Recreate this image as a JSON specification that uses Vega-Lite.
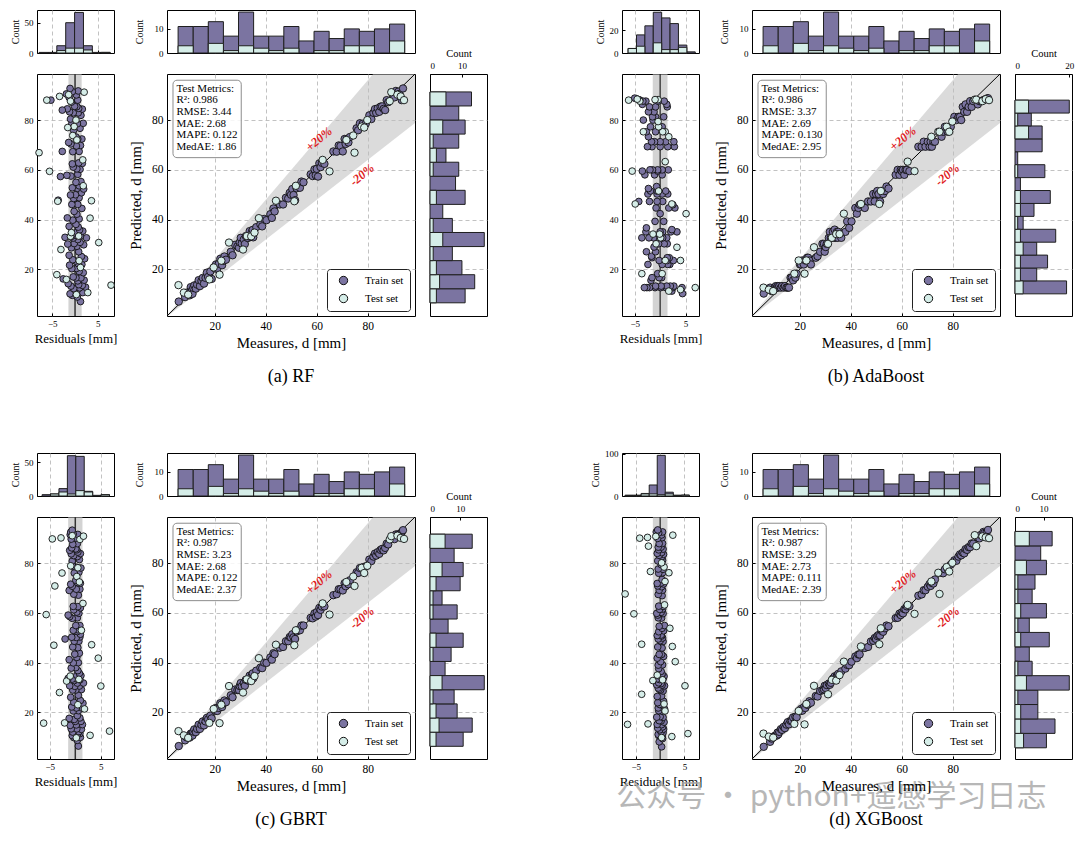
{
  "$schema": "https://vega.github.io/schema/vega-lite/v6.json",
  "background": "white",
  "padding": {"left": 9, "top": 9, "right": 0, "bottom": 0},
  "config": {
    "font": "Liberation Serif",
    "view": {"stroke": "#000", "strokeWidth": 1},
    "axis": {"domain": false, "grid": true, "gridColor": "#b3b3b3", "gridDash": [4, 3], "gridWidth": 0.8, "ticks": true, "tickSize": -3, "tickColor": "#000", "labelFont": "Liberation Serif", "titleFont": "Liberation Serif", "labelColor": "#000", "titleColor": "#000", "titleFontWeight": "normal"},
    "title": {"font": "Liberation Serif", "fontSize": 18, "fontWeight": "normal", "color": "#000"},
    "legend": {"labelFont": "Liberation Serif"}
  },
  "datasets": {
    "pts": [
      {"s":"Test set","m":5.8,"pa":13.7,"ra":7.9,"pb":12.7,"rb":6.9,"pc":12.5,"rc":6.7,"pd":11.5,"rd":5.7},
      {"s":"Train set","m":5.9,"pa":7.1,"ra":1.2,"pb":10.3,"rb":4.4,"pc":6.5,"rc":0.6,"pd":6.2,"rd":0.3},
      {"s":"Test set","m":7.9,"pa":10.7,"ra":2.8,"pb":11.9,"rb":4.0,"pc":10.8,"rc":2.9,"pd":10.3,"rd":2.4},
      {"s":"Train set","m":8.4,"pa":8.9,"ra":0.5,"pb":12.7,"rb":4.3,"pc":8.8,"rc":0.4,"pd":8.2,"rd":-0.2},
      {"s":"Train set","m":9.0,"pa":10.7,"ra":1.7,"pb":11.3,"rb":2.3,"pc":10.0,"rc":1.0,"pd":9.5,"rd":0.5},
      {"s":"Test set","m":9.6,"pa":9.9,"ra":0.3,"pb":11.3,"rb":1.7,"pc":9.8,"rc":0.2,"pd":9.9,"rd":0.3},
      {"s":"Train set","m":10.2,"pa":9.6,"ra":-0.6,"pb":12.7,"rb":2.5,"pc":9.9,"rc":-0.3,"pd":10.6,"rd":0.4},
      {"s":"Train set","m":10.6,"pa":12.9,"ra":2.3,"pb":13.3,"rb":2.7,"pc":11.5,"rc":0.9,"pd":10.7,"rd":0.1},
      {"s":"Train set","m":11.0,"pa":11.4,"ra":0.4,"pb":12.7,"rb":1.7,"pc":11.5,"rc":0.5,"pd":10.7,"rd":-0.3},
      {"s":"Train set","m":11.3,"pa":10.2,"ra":-1.1,"pb":13.3,"rb":2.0,"pc":10.7,"rc":-0.6,"pd":11.9,"rd":0.6},
      {"s":"Train set","m":11.6,"pa":12.6,"ra":1.0,"pb":12.7,"rb":1.1,"pc":12.3,"rc":0.7,"pd":11.2,"rd":-0.4},
      {"s":"Train set","m":12.0,"pa":13.6,"ra":1.6,"pb":13.3,"rb":1.3,"pc":13.2,"rc":1.2,"pd":12.2,"rd":0.2},
      {"s":"Train set","m":12.6,"pa":12.3,"ra":-0.3,"pb":12.7,"rb":0.1,"pc":12.1,"rc":-0.5,"pd":13.3,"rd":0.7},
      {"s":"Train set","m":13.1,"pa":13.9,"ra":0.8,"pb":13.3,"rb":0.2,"pc":13.4,"rc":0.3,"pd":13.0,"rd":-0.1},
      {"s":"Train set","m":13.7,"pa":15.7,"ra":2.0,"pb":12.7,"rb":-1.0,"pc":15.1,"rc":1.4,"pd":14.2,"rd":0.5},
      {"s":"Train set","m":14.2,"pa":13.3,"ra":-0.9,"pb":13.3,"rb":-0.9,"pc":13.4,"rc":-0.8,"pd":13.7,"rd":-0.5},
      {"s":"Train set","m":14.8,"pa":15.4,"ra":0.6,"pb":12.7,"rb":-2.1,"pc":15.0,"rc":0.2,"pd":15.1,"rd":0.3},
      {"s":"Train set","m":15.3,"pa":16.6,"ra":1.3,"pb":12.7,"rb":-2.6,"pc":16.4,"rc":1.1,"pd":16.1,"rd":0.8},
      {"s":"Train set","m":15.8,"pa":14.3,"ra":-1.5,"pb":12.7,"rb":-3.1,"pc":14.8,"rc":-1.0,"pd":15.2,"rd":-0.6},
      {"s":"Train set","m":16.4,"pa":16.6,"ra":0.2,"pb":16.7,"rb":0.3,"pc":16.4,"rc":0.0,"pd":16.6,"rd":0.2},
      {"s":"Train set","m":16.9,"pa":18.7,"ra":1.8,"pb":16.7,"rb":-0.2,"pc":17.8,"rc":0.9,"pd":16.7,"rd":-0.2},
      {"s":"Train set","m":17.4,"pa":17.0,"ra":-0.4,"pb":15.6,"rb":-1.8,"pc":17.2,"rc":-0.2,"pd":18.0,"rd":0.6},
      {"s":"Test set","m":17.9,"pa":16.0,"ra":-1.9,"pb":18.3,"rb":0.4,"pc":15.8,"rc":-2.1,"pd":15.4,"rd":-2.5},
      {"s":"Train set","m":18.3,"pa":19.2,"ra":0.9,"pb":16.7,"rb":-1.6,"pc":18.7,"rc":0.4,"pd":18.3,"rd":0.0},
      {"s":"Train set","m":18.8,"pa":16.2,"ra":-2.6,"pb":18.3,"rb":-0.5,"pc":17.6,"rc":-1.2,"pd":18.1,"rd":-0.7},
      {"s":"Test set","m":19.6,"pa":20.8,"ra":1.2,"pb":23.6,"rb":4.0,"pc":21.4,"rc":1.8,"pd":20.6,"rd":1.0},
      {"s":"Train set","m":20.1,"pa":20.4,"ra":0.3,"pb":22.0,"rb":1.9,"pc":20.7,"rc":0.6,"pd":20.5,"rd":0.4},
      {"s":"Train set","m":20.5,"pa":22.0,"ra":1.5,"pb":22.0,"rb":1.5,"pc":21.8,"rc":1.3,"pd":21.4,"rd":0.9},
      {"s":"Train set","m":21.0,"pa":20.3,"ra":-0.7,"pb":23.6,"rb":2.6,"pc":20.6,"rc":-0.4,"pd":20.7,"rd":-0.3},
      {"s":"Test set","m":21.9,"pa":17.9,"ra":-4.0,"pb":18.3,"rb":-3.6,"pc":15.7,"rc":-6.2,"pd":15.2,"rd":-6.7},
      {"s":"Train set","m":21.6,"pa":22.3,"ra":0.7,"pb":22.0,"rb":0.4,"pc":21.8,"rc":0.2,"pd":22.1,"rd":0.5},
      {"s":"Train set","m":22.2,"pa":24.3,"ra":2.1,"pb":23.6,"rb":1.4,"pc":23.7,"rc":1.5,"pd":21.8,"rd":-0.4},
      {"s":"Test set","m":22.6,"pa":23.5,"ra":0.9,"pb":23.6,"rb":1.0,"pc":23.1,"rc":0.5,"pd":23.4,"rd":0.8},
      {"s":"Train set","m":22.9,"pa":21.7,"ra":-1.2,"pb":24.7,"rb":1.8,"pc":22.2,"rc":-0.7,"pd":23.1,"rd":0.2},
      {"s":"Train set","m":23.3,"pa":23.4,"ra":0.1,"pb":24.7,"rb":1.4,"pc":23.6,"rc":0.3,"pd":23.2,"rd":-0.1},
      {"s":"Train set","m":23.8,"pa":25.2,"ra":1.4,"pb":23.6,"rb":-0.2,"pc":24.8,"rc":1.0,"pd":24.5,"rd":0.7},
      {"s":"Train set","m":24.4,"pa":23.9,"ra":-0.5,"pb":22.0,"rb":-2.4,"pc":24.1,"rc":-0.3,"pd":23.9,"rd":-0.5},
      {"s":"Test set","m":25.6,"pa":30.8,"ra":5.2,"pb":28.9,"rb":3.3,"pc":30.6,"rc":5.0,"pd":30.7,"rd":5.1},
      {"s":"Train set","m":26.3,"pa":27.1,"ra":0.8,"pb":24.7,"rb":-1.6,"pc":26.9,"rc":0.6,"pd":26.6,"rd":0.3},
      {"s":"Train set","m":27.0,"pa":25.7,"ra":-1.3,"pb":25.3,"rb":-1.7,"pc":26.1,"rc":-0.9,"pd":26.4,"rd":-0.6},
      {"s":"Train set","m":28.0,"pa":29.9,"ra":1.9,"pb":27.1,"rb":-0.9,"pc":29.2,"rc":1.2,"pd":28.6,"rd":0.6},
      {"s":"Train set","m":28.9,"pa":29.3,"ra":0.4,"pb":30.3,"rb":1.4,"pc":29.0,"rc":0.1,"pd":29.0,"rd":0.1},
      {"s":"Train set","m":29.5,"pa":28.7,"ra":-0.8,"pb":30.3,"rb":0.8,"pc":29.0,"rc":-0.5,"pd":29.3,"rd":-0.2},
      {"s":"Train set","m":29.8,"pa":30.9,"ra":1.1,"pb":27.1,"rb":-2.7,"pc":30.6,"rc":0.8,"pd":30.7,"rd":0.9},
      {"s":"Train set","m":30.2,"pa":32.7,"ra":2.5,"pb":29.0,"rb":-1.2,"pc":31.8,"rc":1.6,"pd":29.8,"rd":-0.4},
      {"s":"Test set","m":31.1,"pa":28.0,"ra":-3.1,"pb":30.3,"rb":-0.8,"pc":28.0,"rc":-3.1,"pd":27.3,"rd":-3.8},
      {"s":"Train set","m":30.6,"pa":30.4,"ra":-0.2,"pb":30.3,"rb":-0.3,"pc":30.5,"rc":-0.1,"pd":31.0,"rd":0.4},
      {"s":"Train set","m":31.4,"pa":32.0,"ra":0.6,"pb":32.7,"rb":1.3,"pc":31.8,"rc":0.4,"pd":31.6,"rd":0.2},
      {"s":"Train set","m":31.8,"pa":30.2,"ra":-1.6,"pb":35.1,"rb":3.3,"pc":30.7,"rc":-1.1,"pd":31.1,"rd":-0.7},
      {"s":"Test set","m":32.6,"pa":33.4,"ra":0.8,"pb":32.7,"rb":0.1,"pc":33.3,"rc":0.7,"pd":33.1,"rd":0.5},
      {"s":"Train set","m":32.2,"pa":33.4,"ra":1.2,"pb":32.7,"rb":0.5,"pc":33.1,"rc":0.9,"pd":31.9,"rd":-0.3},
      {"s":"Train set","m":33.0,"pa":32.6,"ra":-0.4,"pb":35.1,"rb":2.1,"pc":32.8,"rc":-0.2,"pd":33.6,"rd":0.6},
      {"s":"Train set","m":33.3,"pa":33.6,"ra":0.3,"pb":32.7,"rb":-0.6,"pc":33.5,"rc":0.2,"pd":33.2,"rd":-0.1},
      {"s":"Train set","m":33.7,"pa":35.4,"ra":1.7,"pb":36.0,"rb":2.3,"pc":34.8,"rc":1.1,"pd":34.5,"rd":0.8},
      {"s":"Test set","m":34.3,"pa":33.3,"ra":-1.0,"pb":34.2,"rb":-0.1,"pc":32.6,"rc":-1.7,"pd":32.8,"rd":-1.5},
      {"s":"Train set","m":34.0,"pa":33.1,"ra":-0.9,"pb":32.7,"rb":-1.3,"pc":33.4,"rc":-0.6,"pd":33.5,"rd":-0.5},
      {"s":"Train set","m":34.6,"pa":35.1,"ra":0.5,"pb":35.1,"rb":0.5,"pc":34.9,"rc":0.3,"pd":34.9,"rd":0.3},
      {"s":"Train set","m":34.9,"pa":35.9,"ra":1.0,"pb":32.7,"rb":-2.2,"pc":35.7,"rc":0.8,"pd":34.7,"rd":-0.2},
      {"s":"Train set","m":35.1,"pa":32.9,"ra":-2.2,"pb":35.1,"rb":0.0,"pc":33.7,"rc":-1.4,"pd":35.5,"rd":0.4},
      {"s":"Test set","m":35.6,"pa":34.8,"ra":-0.8,"pb":34.2,"rb":-1.4,"pc":34.6,"rc":-1.0,"pd":35.0,"rd":-0.6},
      {"s":"Train set","m":36.3,"pa":37.0,"ra":0.7,"pb":32.7,"rb":-3.6,"pc":36.8,"rc":0.5,"pd":36.5,"rd":0.2},
      {"s":"Test set","m":37.3,"pa":40.6,"ra":3.3,"pb":42.4,"rb":5.1,"pc":41.8,"rc":4.5,"pd":40.4,"rd":3.1},
      {"s":"Train set","m":37.9,"pa":38.1,"ra":0.2,"pb":35.1,"rb":-2.8,"pc":38.0,"rc":0.1,"pd":37.6,"rd":-0.3},
      {"s":"Train set","m":38.6,"pa":37.3,"ra":-1.3,"pb":39.3,"rb":0.7,"pc":37.8,"rc":-0.8,"pd":39.1,"rd":0.5},
      {"s":"Train set","m":39.4,"pa":40.3,"ra":0.9,"pb":36.7,"rb":-2.7,"pc":40.0,"rc":0.6,"pd":39.0,"rd":-0.4},
      {"s":"Train set","m":40.3,"pa":39.8,"ra":-0.5,"pb":39.3,"rb":-1.0,"pc":39.9,"rc":-0.4,"pd":40.4,"rd":0.1},
      {"s":"Train set","m":41.8,"pa":42.2,"ra":0.4,"pb":44.7,"rb":2.9,"pc":42.1,"rc":0.3,"pd":42.5,"rd":0.7},
      {"s":"Train set","m":42.4,"pa":40.7,"ra":-1.7,"pb":42.4,"rb":0.0,"pc":41.2,"rc":-1.2,"pd":41.8,"rd":-0.6},
      {"s":"Train set","m":43.0,"pa":44.5,"ra":1.5,"pb":44.7,"rb":1.7,"pc":43.8,"rc":0.8,"pd":43.3,"rd":0.3},
      {"s":"Train set","m":43.5,"pa":43.3,"ra":-0.2,"pb":46.0,"rb":2.5,"pc":43.4,"rc":-0.1,"pd":43.3,"rd":-0.2},
      {"s":"Test set","m":44.0,"pa":47.6,"ra":3.6,"pb":46.3,"rb":2.3,"pc":47.2,"rc":3.2,"pd":46.5,"rd":2.5},
      {"s":"Train set","m":45.5,"pa":46.1,"ra":0.6,"pb":44.7,"rb":-0.8,"pc":46.0,"rc":0.5,"pd":45.9,"rd":0.4},
      {"s":"Train set","m":46.8,"pa":46.1,"ra":-0.7,"pb":47.3,"rb":0.5,"pc":46.3,"rc":-0.5,"pd":46.3,"rd":-0.5},
      {"s":"Train set","m":47.9,"pa":48.8,"ra":0.9,"pb":47.3,"rb":-0.6,"pc":48.6,"rc":0.7,"pd":48.5,"rd":0.6},
      {"s":"Train set","m":48.8,"pa":48.5,"ra":-0.3,"pb":50.3,"rb":1.5,"pc":48.6,"rc":-0.2,"pd":48.8,"rd":0.0},
      {"s":"Train set","m":49.4,"pa":50.8,"ra":1.4,"pb":47.3,"rb":-2.1,"pc":50.3,"rc":0.9,"pd":49.9,"rd":0.5},
      {"s":"Train set","m":49.9,"pa":50.0,"ra":0.1,"pb":50.3,"rb":0.4,"pc":50.1,"rc":0.2,"pd":49.5,"rd":-0.4},
      {"s":"Train set","m":50.4,"pa":52.3,"ra":1.9,"pb":51.5,"rb":1.1,"pc":51.4,"rc":1.0,"pd":50.7,"rd":0.3},
      {"s":"Test set","m":51.2,"pa":47.4,"ra":-3.8,"pb":46.3,"rb":-4.9,"pc":47.0,"rc":-4.2,"pd":47.4,"rd":-3.8},
      {"s":"Test set","m":51.8,"pa":53.6,"ra":1.8,"pb":51.5,"rb":-0.3,"pc":53.0,"rc":1.2,"pd":53.8,"rd":2.0},
      {"s":"Train set","m":50.9,"pa":49.9,"ra":-1.0,"pb":50.3,"rb":-0.6,"pc":50.2,"rc":-0.7,"pd":51.1,"rd":0.2},
      {"s":"Train set","m":51.5,"pa":47.8,"ra":-3.7,"pb":47.3,"rb":-4.2,"pc":49.5,"rc":-2.0,"pd":50.9,"rd":-0.6},
      {"s":"Train set","m":52.1,"pa":52.6,"ra":0.5,"pb":51.5,"rb":-0.6,"pc":52.5,"rc":0.4,"pd":52.8,"rd":0.7},
      {"s":"Train set","m":52.7,"pa":53.6,"ra":0.9,"pb":50.3,"rb":-2.4,"pc":53.2,"rc":0.5,"pd":52.4,"rd":-0.3},
      {"s":"Train set","m":53.4,"pa":52.8,"ra":-0.6,"pb":51.5,"rb":-1.9,"pc":53.0,"rc":-0.4,"pd":53.8,"rd":0.4},
      {"s":"Train set","m":54.0,"pa":55.3,"ra":1.3,"pb":53.3,"rb":-0.7,"pc":54.9,"rc":0.9,"pd":54.9,"rd":0.9},
      {"s":"Train set","m":54.8,"pa":55.0,"ra":0.2,"pb":52.5,"rb":-2.3,"pc":54.9,"rc":0.1,"pd":54.6,"rd":-0.2},
      {"s":"Train set","m":57.6,"pa":58.2,"ra":0.6,"pb":58.0,"rb":0.4,"pc":58.0,"rc":0.4,"pd":57.9,"rd":0.3},
      {"s":"Train set","m":58.4,"pa":57.5,"ra":-0.9,"pb":60.0,"rb":1.6,"pc":57.8,"rc":-0.6,"pd":58.0,"rd":-0.4},
      {"s":"Train set","m":59.1,"pa":60.2,"ra":1.1,"pb":58.0,"rb":-1.1,"pc":59.8,"rc":0.7,"pd":59.7,"rd":0.6},
      {"s":"Train set","m":59.6,"pa":57.8,"ra":-1.8,"pb":60.0,"rb":0.4,"pc":58.5,"rc":-1.1,"pd":59.1,"rd":-0.5},
      {"s":"Train set","m":60.0,"pa":60.4,"ra":0.4,"pb":59.5,"rb":-0.5,"pc":60.3,"rc":0.3,"pd":60.2,"rd":0.2},
      {"s":"Train set","m":60.5,"pa":57.3,"ra":-3.2,"pb":60.0,"rb":-0.5,"pc":59.1,"rc":-1.4,"pd":59.8,"rd":-0.7},
      {"s":"Train set","m":61.0,"pa":62.6,"ra":1.6,"pb":58.0,"rb":-3.0,"pc":62.0,"rc":1.0,"pd":61.5,"rd":0.5},
      {"s":"Train set","m":61.5,"pa":61.1,"ra":-0.4,"pb":60.0,"rb":-1.5,"pc":61.2,"rc":-0.3,"pd":61.4,"rd":-0.1},
      {"s":"Test set","m":62.3,"pa":64.0,"ra":1.7,"pb":63.3,"rb":1.0,"pc":63.8,"rc":1.5,"pd":63.2,"rd":0.9},
      {"s":"Train set","m":62.0,"pa":62.8,"ra":0.8,"pb":60.0,"rb":-2.0,"pc":62.5,"rc":0.5,"pd":62.6,"rd":0.6},
      {"s":"Train set","m":63.0,"pa":62.4,"ra":-0.6,"pb":59.5,"rb":-3.5,"pc":62.6,"rc":-0.4,"pd":62.7,"rd":-0.3},
      {"s":"Test set","m":65.0,"pa":59.4,"ra":-5.6,"pb":59.5,"rb":-5.5,"pc":59.3,"rc":-5.7,"pd":59.6,"rd":-5.4},
      {"s":"Train set","m":66.5,"pa":67.4,"ra":0.9,"pb":69.3,"rb":2.8,"pc":67.1,"rc":0.6,"pd":66.9,"rd":0.4},
      {"s":"Train set","m":67.8,"pa":67.3,"ra":-0.5,"pb":69.3,"rb":1.5,"pc":67.5,"rc":-0.3,"pd":67.4,"rd":-0.4},
      {"s":"Train set","m":68.6,"pa":69.8,"ra":1.2,"pb":71.3,"rb":2.7,"pc":69.5,"rc":0.9,"pd":69.1,"rd":0.5},
      {"s":"Train set","m":69.3,"pa":69.6,"ra":0.3,"pb":69.3,"rb":0.0,"pc":69.5,"rc":0.2,"pd":69.1,"rd":-0.2},
      {"s":"Train set","m":70.2,"pa":67.4,"ra":-2.8,"pb":71.3,"rb":1.1,"pc":69.0,"rc":-1.2,"pd":70.5,"rd":0.3},
      {"s":"Train set","m":70.9,"pa":72.4,"ra":1.5,"pb":69.3,"rb":-1.6,"pc":71.9,"rc":1.0,"pd":71.6,"rd":0.7},
      {"s":"Train set","m":71.3,"pa":70.4,"ra":-0.9,"pb":71.3,"rb":0.0,"pc":70.7,"rc":-0.6,"pd":70.8,"rd":-0.5},
      {"s":"Train set","m":71.8,"pa":72.4,"ra":0.6,"pb":69.3,"rb":-2.5,"pc":72.2,"rc":0.4,"pd":72.0,"rd":0.2},
      {"s":"Train set","m":72.4,"pa":71.0,"ra":-1.4,"pb":71.3,"rb":-1.1,"pc":71.5,"rc":-0.9,"pd":71.8,"rd":-0.6},
      {"s":"Train set","m":73.0,"pa":73.2,"ra":0.2,"pb":71.3,"rb":-1.7,"pc":73.1,"rc":0.1,"pd":73.4,"rd":0.4},
      {"s":"Test set","m":74.3,"pa":73.8,"ra":-0.5,"pb":75.3,"rb":1.0,"pc":74.6,"rc":0.3,"pd":76.1,"rd":1.8},
      {"s":"Test set","m":74.8,"pa":66.9,"ra":-7.9,"pb":75.3,"rb":0.5,"pc":70.8,"rc":-4.0,"pd":67.6,"rd":-7.2},
      {"s":"Test set","m":71.6,"pa":72.0,"ra":0.4,"pb":73.3,"rb":1.7,"pc":72.4,"rc":0.8,"pd":72.6,"rd":1.0},
      {"s":"Train set","m":75.6,"pa":76.7,"ra":1.1,"pb":73.3,"rb":-2.3,"pc":76.3,"rc":0.7,"pd":76.1,"rd":0.5},
      {"s":"Train set","m":76.2,"pa":75.9,"ra":-0.3,"pb":75.3,"rb":-0.9,"pc":76.0,"rc":-0.2,"pd":75.9,"rd":-0.3},
      {"s":"Train set","m":76.9,"pa":78.7,"ra":1.8,"pb":77.3,"rb":0.4,"pc":78.0,"rc":1.1,"pd":77.5,"rd":0.6},
      {"s":"Test set","m":77.6,"pa":77.4,"ra":-0.2,"pb":77.3,"rb":-0.3,"pc":78.1,"rc":0.5,"pd":78.4,"rd":0.8},
      {"s":"Train set","m":78.0,"pa":78.5,"ra":0.5,"pb":75.3,"rb":-2.7,"pc":78.3,"rc":0.3,"pd":77.6,"rd":-0.4},
      {"s":"Test set","m":78.6,"pa":77.0,"ra":-1.6,"pb":75.3,"rb":-3.3,"pc":76.0,"rc":-2.6,"pd":76.6,"rd":-2.0},
      {"s":"Train set","m":79.2,"pa":78.5,"ra":-0.7,"pb":77.3,"rb":-1.9,"pc":78.7,"rc":-0.5,"pd":79.4,"rd":0.2},
      {"s":"Test set","m":79.8,"pa":80.0,"ra":0.2,"pb":79.4,"rb":-0.4,"pc":78.9,"rc":-0.9,"pd":80.1,"rd":0.3},
      {"s":"Train set","m":80.6,"pa":81.9,"ra":1.3,"pb":81.3,"rb":0.7,"pc":81.4,"rc":0.8,"pd":81.1,"rd":0.5},
      {"s":"Train set","m":81.4,"pa":80.4,"ra":-1.0,"pb":80.0,"rb":-1.4,"pc":80.8,"rc":-0.6,"pd":80.9,"rd":-0.5},
      {"s":"Train set","m":82.2,"pa":82.9,"ra":0.7,"pb":81.3,"rb":-0.9,"pc":82.6,"rc":0.4,"pd":82.6,"rd":0.4},
      {"s":"Train set","m":82.8,"pa":84.4,"ra":1.6,"pb":81.3,"rb":-1.5,"pc":83.8,"rc":1.0,"pd":83.5,"rd":0.7},
      {"s":"Train set","m":83.3,"pa":82.9,"ra":-0.4,"pb":80.0,"rb":-3.3,"pc":83.0,"rc":-0.3,"pd":83.1,"rd":-0.2},
      {"s":"Train set","m":83.9,"pa":84.7,"ra":0.8,"pb":85.3,"rb":1.4,"pc":84.4,"rc":0.5,"pd":84.2,"rd":0.3},
      {"s":"Train set","m":84.5,"pa":83.3,"ra":-1.2,"pb":83.3,"rb":-1.2,"pc":83.7,"rc":-0.8,"pd":83.9,"rd":-0.6},
      {"s":"Train set","m":85.0,"pa":85.4,"ra":0.4,"pb":86.3,"rb":1.3,"pc":85.3,"rc":0.3,"pd":85.6,"rd":0.6},
      {"s":"Train set","m":85.6,"pa":85.5,"ra":-0.1,"pb":83.3,"rb":-2.3,"pc":85.7,"rc":0.1,"pd":85.3,"rd":-0.3},
      {"s":"Train set","m":86.2,"pa":84.5,"ra":-1.7,"pb":85.3,"rb":-0.9,"pc":85.1,"rc":-1.1,"pd":86.4,"rd":0.2},
      {"s":"Train set","m":86.8,"pa":84.0,"ra":-2.8,"pb":87.6,"rb":0.8,"pc":86.1,"rc":-0.7,"pd":86.4,"rd":-0.4},
      {"s":"Train set","m":87.4,"pa":88.0,"ra":0.6,"pb":85.3,"rb":-2.1,"pc":87.8,"rc":0.4,"pd":87.9,"rd":0.5},
      {"s":"Train set","m":88.0,"pa":87.2,"ra":-0.8,"pb":87.6,"rb":-0.4,"pc":87.5,"rc":-0.5,"pd":87.8,"rd":-0.2},
      {"s":"Test set","m":88.6,"pa":87.6,"ra":-1.0,"pb":88.2,"rb":-0.4,"pc":89.5,"rc":0.9,"pd":91.2,"rd":2.6},
      {"s":"Test set","m":89.2,"pa":91.2,"ra":2.0,"pb":88.2,"rb":-1.0,"pc":90.8,"rc":1.6,"pd":86.8,"rd":-2.4},
      {"s":"Train set","m":89.8,"pa":90.1,"ra":0.3,"pb":86.3,"rb":-3.5,"pc":90.0,"rc":0.2,"pd":90.2,"rd":0.4},
      {"s":"Train set","m":90.4,"pa":89.1,"ra":-1.3,"pb":87.6,"rb":-2.8,"pc":89.6,"rc":-0.8,"pd":89.9,"rd":-0.5},
      {"s":"Train set","m":91.0,"pa":91.7,"ra":0.7,"pb":87.6,"rb":-3.4,"pc":91.5,"rc":0.5,"pd":91.3,"rd":0.3},
      {"s":"Test set","m":91.6,"pa":90.2,"ra":-1.4,"pb":87.6,"rb":-4.0,"pc":91.0,"rc":-0.6,"pd":90.7,"rd":-0.9},
      {"s":"Train set","m":92.0,"pa":91.4,"ra":-0.6,"pb":88.0,"rb":-4.0,"pc":91.6,"rc":-0.4,"pd":92.5,"rd":0.5},
      {"s":"Train set","m":92.4,"pa":90.5,"ra":-1.9,"pb":88.2,"rb":-4.2,"pc":91.4,"rc":-1.0,"pd":92.1,"rd":-0.3},
      {"s":"Test set","m":92.9,"pa":89.5,"ra":-3.4,"pb":88.4,"rb":-4.5,"pc":90.1,"rc":-2.8,"pd":90.3,"rd":-2.6},
      {"s":"Train set","m":93.3,"pa":88.0,"ra":-5.3,"pb":88.6,"rb":-4.7,"pc":92.4,"rc":-0.9,"pd":92.5,"rd":-0.8},
      {"s":"Test set","m":94.2,"pa":88.0,"ra":-6.2,"pb":88.0,"rb":-6.2,"pc":89.7,"rc":-4.5,"pd":90.0,"rd":-4.2},
      {"s":"Train set","m":93.8,"pa":92.7,"ra":-1.1,"pb":88.8,"rb":-5.0,"pc":93.2,"rc":-0.6,"pd":93.3,"rd":-0.5}
    ],
    "xh": [
      {"lo":5.65,"hi":11.57,"n":11,"t":3},{"lo":11.57,"hi":17.49,"n":11,"t":0},{"lo":17.49,"hi":23.41,"n":13,"t":4},
      {"lo":23.41,"hi":29.33,"n":7,"t":1},{"lo":29.33,"hi":35.25,"n":17,"t":3},{"lo":35.25,"hi":41.17,"n":7,"t":2},
      {"lo":41.17,"hi":47.09,"n":7,"t":1},{"lo":47.09,"hi":53.01,"n":11,"t":2},{"lo":53.01,"hi":58.93,"n":5,"t":0},
      {"lo":58.93,"hi":64.85,"n":9,"t":1},{"lo":64.85,"hi":70.77,"n":6,"t":1},{"lo":70.77,"hi":76.69,"n":10,"t":3},
      {"lo":76.69,"hi":82.61,"n":9,"t":3},{"lo":82.61,"hi":88.53,"n":10,"t":0},{"lo":88.53,"hi":94.45,"n":12,"t":5}
    ],
    "yh": [
      {"k":"a","lo":6.6,"hi":12.25,"n":11,"t":2},{"k":"a","lo":12.25,"hi":17.89,"n":14,"t":3},{"k":"a","lo":17.89,"hi":23.54,"n":10,"t":2},
      {"k":"a","lo":23.54,"hi":29.19,"n":7,"t":1},{"k":"a","lo":29.19,"hi":34.84,"n":17,"t":4},{"k":"a","lo":34.84,"hi":40.48,"n":7,"t":1},
      {"k":"a","lo":40.48,"hi":46.13,"n":4,"t":0},{"k":"a","lo":46.13,"hi":51.78,"n":11,"t":2},{"k":"a","lo":51.78,"hi":57.42,"n":8,"t":0},
      {"k":"a","lo":57.42,"hi":63.07,"n":9,"t":1},{"k":"a","lo":63.07,"hi":68.72,"n":5,"t":2},{"k":"a","lo":68.72,"hi":74.36,"n":9,"t":1},
      {"k":"a","lo":74.36,"hi":80.01,"n":11,"t":4},{"k":"a","lo":80.01,"hi":85.66,"n":9,"t":0},{"k":"a","lo":85.66,"hi":91.3,"n":13,"t":5},
      {"k":"b","lo":10.2,"hi":15.39,"n":19,"t":3},{"k":"b","lo":15.39,"hi":20.57,"n":8,"t":2},{"k":"b","lo":20.57,"hi":25.76,"n":12,"t":2},
      {"k":"b","lo":25.76,"hi":30.95,"n":8,"t":3},{"k":"b","lo":30.95,"hi":36.13,"n":15,"t":2},{"k":"b","lo":36.13,"hi":41.32,"n":3,"t":1},
      {"k":"b","lo":41.32,"hi":46.51,"n":7,"t":2},{"k":"b","lo":46.51,"hi":51.7,"n":13,"t":2},{"k":"b","lo":51.7,"hi":56.88,"n":2,"t":0},
      {"k":"b","lo":56.88,"hi":62.07,"n":11,"t":1},{"k":"b","lo":62.07,"hi":67.26,"n":1,"t":0},{"k":"b","lo":67.26,"hi":72.44,"n":10,"t":0},
      {"k":"b","lo":72.44,"hi":77.63,"n":10,"t":5},{"k":"b","lo":77.63,"hi":82.81,"n":6,"t":1},{"k":"b","lo":82.81,"hi":88.0,"n":20,"t":5},
      {"k":"c","lo":6.4,"hi":12.08,"n":11,"t":2},{"k":"c","lo":12.08,"hi":17.76,"n":14,"t":3},{"k":"c","lo":17.76,"hi":23.44,"n":9,"t":2},
      {"k":"c","lo":23.44,"hi":29.12,"n":8,"t":1},{"k":"c","lo":29.12,"hi":34.8,"n":18,"t":4},{"k":"c","lo":34.8,"hi":40.48,"n":5,"t":0},
      {"k":"c","lo":40.48,"hi":46.16,"n":7,"t":1},{"k":"c","lo":46.16,"hi":51.84,"n":11,"t":2},{"k":"c","lo":51.84,"hi":57.52,"n":6,"t":0},
      {"k":"c","lo":57.52,"hi":63.2,"n":9,"t":1},{"k":"c","lo":63.2,"hi":68.88,"n":4,"t":1},{"k":"c","lo":68.88,"hi":74.56,"n":10,"t":2},
      {"k":"c","lo":74.56,"hi":80.24,"n":11,"t":4},{"k":"c","lo":80.24,"hi":85.92,"n":8,"t":0},{"k":"c","lo":85.92,"hi":91.6,"n":14,"t":5},
      {"k":"d","lo":5.8,"hi":11.59,"n":11,"t":3},{"k":"d","lo":11.59,"hi":17.39,"n":14,"t":2},{"k":"d","lo":17.39,"hi":23.18,"n":8,"t":2},
      {"k":"d","lo":23.18,"hi":28.97,"n":8,"t":1},{"k":"d","lo":28.97,"hi":34.77,"n":19,"t":4},{"k":"d","lo":34.77,"hi":40.56,"n":6,"t":1},
      {"k":"d","lo":40.56,"hi":46.35,"n":5,"t":0},{"k":"d","lo":46.35,"hi":52.14,"n":12,"t":2},{"k":"d","lo":52.14,"hi":57.94,"n":5,"t":1},
      {"k":"d","lo":57.94,"hi":63.73,"n":11,"t":2},{"k":"d","lo":63.73,"hi":69.52,"n":6,"t":1},{"k":"d","lo":69.52,"hi":75.32,"n":7,"t":1},
      {"k":"d","lo":75.32,"hi":81.11,"n":11,"t":4},{"k":"d","lo":81.11,"hi":86.9,"n":9,"t":0},{"k":"d","lo":86.9,"hi":92.7,"n":13,"t":5}
    ],
    "rh": [
      {"k":"a","lo":-7.9,"hi":-5.95,"n":1,"t":0},{"k":"a","lo":-5.95,"hi":-4.0,"n":1,"t":0},{"k":"a","lo":-4.0,"hi":-2.05,"n":12,"t":4},{"k":"a","lo":-2.05,"hi":-0.1,"n":50,"t":8},
      {"k":"a","lo":-0.1,"hi":1.85,"n":67,"t":8},{"k":"a","lo":1.85,"hi":3.8,"n":12,"t":5},{"k":"a","lo":3.8,"hi":5.75,"n":1,"t":0},{"k":"a","lo":5.75,"hi":7.7,"n":1,"t":1},
      {"k":"b","lo":-6.3,"hi":-4.65,"n":4,"t":4},{"k":"b","lo":-4.65,"hi":-3.0,"n":16,"t":6},{"k":"b","lo":-3.0,"hi":-1.35,"n":24,"t":0},{"k":"b","lo":-1.35,"hi":0.3,"n":36,"t":9},
      {"k":"b","lo":0.3,"hi":1.95,"n":31,"t":3},{"k":"b","lo":1.95,"hi":3.6,"n":26,"t":3},{"k":"b","lo":3.6,"hi":5.25,"n":7,"t":5},{"k":"b","lo":5.25,"hi":6.9,"n":1,"t":0},
      {"k":"c","lo":-6.5,"hi":-4.85,"n":2,"t":0},{"k":"c","lo":-4.85,"hi":-3.2,"n":3,"t":3},{"k":"c","lo":-3.2,"hi":-1.55,"n":11,"t":6},{"k":"c","lo":-1.55,"hi":0.1,"n":60,"t":3},
      {"k":"c","lo":0.1,"hi":1.75,"n":59,"t":8},{"k":"c","lo":1.75,"hi":3.4,"n":7,"t":6},{"k":"c","lo":3.4,"hi":5.05,"n":1,"t":0},{"k":"c","lo":5.05,"hi":6.7,"n":2,"t":2},
      {"k":"d","lo":-7.2,"hi":-5.55,"n":2,"t":1},{"k":"d","lo":-5.55,"hi":-3.9,"n":2,"t":1},{"k":"d","lo":-3.9,"hi":-2.25,"n":6,"t":5},{"k":"d","lo":-2.25,"hi":-0.6,"n":26,"t":5},
      {"k":"d","lo":-0.6,"hi":1.05,"n":96,"t":3},{"k":"d","lo":1.05,"hi":2.7,"n":9,"t":5},{"k":"d","lo":2.7,"hi":4.35,"n":2,"t":1},{"k":"d","lo":4.35,"hi":6.0,"n":2,"t":2}
    ]
  },
  "columns": 2,
  "spacing": {"column": 102, "row": 63},
  "resolve": {"scale": {"fill": "independent"}, "legend": {"fill": "independent"}},
  "concat": [
    {
      "columns": 4, "align": "each", "bounds": "flush",
      "spacing": {"row": 21, "column": 15},
      "resolve": {"scale": {"fill": "independent"}, "legend": {"fill": "independent"}},
      "concat": [
        {
          "width": 77, "height": 43,
          "data": {"name": "rh"},
          "transform": [{"filter": "datum.k == 'a'"}],
          "encoding": {
            "x": {"field": "lo", "type": "quantitative", "scale": {"domain": [-8.35, 8.55], "nice": false, "zero": false}, "axis": {"title": null, "labels": false, "values": [-5, 0, 5]}},
            "x2": {"field": "hi"},
            "y2": {"datum": 0}
          },
          "layer": [
            {"mark": {"type": "rect", "fill": "#7b74a1", "stroke": "#1f1f1f", "strokeWidth": 1},
             "encoding": {"y": {"field": "n", "type": "quantitative", "scale": {"domain": [0, 71], "nice": false}, "axis": {"title": "Count", "values": [0, 50], "grid": false, "labelFontSize": 9, "titleFontSize": 10, "titlePadding": 4, "labelPadding": 7}}}},
            {"transform": [{"filter": "datum.t > 0"}],
             "mark": {"type": "rect", "fill": "#d5ede8", "stroke": "#1f1f1f", "strokeWidth": 1},
             "encoding": {"y": {"field": "t", "type": "quantitative", "scale": {"domain": [0, 71], "nice": false}, "axis": {"title": "Count", "values": [0, 50], "grid": false, "labelFontSize": 9, "titleFontSize": 10, "titlePadding": 4, "labelPadding": 7}}}}
          ]
        },
        {"width": 23, "height": 10, "data": {"values": []}, "mark": "point", "view": {"stroke": null}},
        {
          "width": 248, "height": 43,
          "data": {"name": "xh"},
          "encoding": {
            "x": {"field": "lo", "type": "quantitative", "scale": {"domain": [1.3, 98.5], "nice": false, "zero": false}, "axis": {"title": null, "labels": false, "values": [20, 40, 60, 80]}},
            "x2": {"field": "hi"},
            "y2": {"datum": 0}
          },
          "layer": [
            {"mark": {"type": "rect", "fill": "#7b74a1", "stroke": "#1f1f1f", "strokeWidth": 1},
             "encoding": {"y": {"field": "n", "type": "quantitative", "scale": {"domain": [0, 17.85], "nice": false}, "axis": {"title": "Count", "values": [0, 10], "grid": false, "labelFontSize": 9, "titleFontSize": 10, "titlePadding": 10, "labelPadding": 7}}}},
            {"transform": [{"filter": "datum.t > 0"}],
             "mark": {"type": "rect", "fill": "#d5ede8", "stroke": "#1f1f1f", "strokeWidth": 1},
             "encoding": {"y": {"field": "t", "type": "quantitative", "scale": {"domain": [0, 17.85], "nice": false}, "axis": {"title": "Count", "values": [0, 10], "grid": false, "labelFontSize": 9, "titleFontSize": 10, "titlePadding": 10, "labelPadding": 7}}}}
          ]
        },
        {"width": 57, "height": 43, "data": {"values": []}, "mark": "point", "view": {"stroke": null}},
        {
          "width": 77, "height": 242,
          "layer": [
            {"data": {"values": [{}]}, "mark": {"type": "rect", "fill": "#b5b5b5", "opacity": 0.6},
             "encoding": {"x": {"datum": -1.45, "type": "quantitative", "scale": {"domain": [-8.35, 8.55], "nice": false, "zero": false}}, "x2": {"datum": 1.45}}},
            {"data": {"values": [{}]}, "mark": {"type": "rule", "color": "#333", "strokeWidth": 1.5},
             "encoding": {"x": {"datum": 0, "type": "quantitative", "scale": {"domain": [-8.35, 8.55], "nice": false, "zero": false}}}},
            {"data": {"name": "pts"},
             "mark": {"type": "point", "filled": true, "stroke": "#111", "strokeWidth": 0.9, "size": 45, "opacity": 1},
             "encoding": {
               "x": {"field": "ra", "type": "quantitative", "scale": {"domain": [-8.35, 8.55], "nice": false, "zero": false}, "axis": {"title": "Residuals [mm]", "values": [-5, 0, 5], "labelFontSize": 9, "titleFontSize": 13, "titlePadding": 4, "labelPadding": 6}},
               "y": {"field": "pa", "type": "quantitative", "scale": {"domain": [1.3, 98.5], "nice": false, "zero": false}, "axis": {"title": null, "values": [20, 40, 60, 80], "labelFontSize": 9, "labelPadding": 7}},
               "fill": {"field": "s", "type": "nominal", "scale": {"domain": ["Train set", "Test set"], "range": ["#7b74a1", "#d5ede8"]}, "legend": null},
               "order": {"field": "s", "sort": "descending"}
             }}
          ]
        },
        {"width": 23, "height": 10, "data": {"values": []}, "mark": "point", "view": {"stroke": null}},
        {
          "width": 248, "height": 242,
          "title": {"text": "(a) RF", "orient": "bottom", "frame": "group", "offset": 17, "anchor": "middle"},
          "layer": [
            {"data": {"values": [{"x": 0, "lo": 0, "hi": 0}, {"x": 100, "lo": 80, "hi": 120}]},
             "mark": {"type": "area", "fill": "#bdbdbd", "opacity": 0.55, "clip": true},
             "encoding": {"x": {"field": "x", "type": "quantitative", "scale": {"domain": [1.3, 98.5], "nice": false, "zero": false}}, "y": {"field": "lo", "type": "quantitative", "scale": {"domain": [1.3, 98.5], "nice": false, "zero": false}}, "y2": {"field": "hi"}}},
            {"data": {"values": [{"x": 0, "y": 0}, {"x": 100, "y": 100}]},
             "mark": {"type": "line", "color": "#000", "strokeWidth": 1, "clip": true},
             "encoding": {"x": {"field": "x", "type": "quantitative", "scale": {"domain": [1.3, 98.5], "nice": false, "zero": false}}, "y": {"field": "y", "type": "quantitative", "scale": {"domain": [1.3, 98.5], "nice": false, "zero": false}}}},
            {"data": {"name": "pts"},
             "mark": {"type": "point", "filled": true, "stroke": "#111", "strokeWidth": 0.9, "size": 55, "opacity": 1},
             "encoding": {
               "x": {"field": "m", "type": "quantitative", "scale": {"domain": [1.3, 98.5], "nice": false, "zero": false}, "axis": {"title": "Measures, d [mm]", "values": [20, 40, 60, 80], "labelFontSize": 11.5, "titleFontSize": 15, "titlePadding": 4, "labelPadding": 7}},
               "y": {"field": "pa", "type": "quantitative", "scale": {"domain": [1.3, 98.5], "nice": false, "zero": false}, "axis": {"title": "Predicted, d [mm]", "values": [20, 40, 60, 80], "labelFontSize": 11.5, "titleFontSize": 15, "titlePadding": 8, "labelPadding": 7}},
               "fill": {"field": "s", "type": "nominal", "scale": {"domain": ["Train set", "Test set"], "range": ["#7b74a1", "#d5ede8"]},
                        "legend": {"title": null, "orient": "bottom-right", "offset": 5, "padding": 6, "cornerRadius": 3, "fillColor": "white", "strokeColor": "#222", "symbolType": "circle", "symbolSize": 70, "symbolStrokeColor": "#111", "symbolStrokeWidth": 1, "symbolOffset": 5, "labelOffset": 16, "labelFontSize": 11, "rowPadding": 5}},
               "order": {"field": "s", "sort": "descending"}
             }},
            {"data": {"values": [{}]},
             "mark": {"type": "text", "text": "+20%", "angle": -40, "fontStyle": "italic", "fontWeight": "bold", "fontSize": 12.5, "color": "#e0201b"},
             "encoding": {"x": {"datum": 60.8, "type": "quantitative", "scale": {"domain": [1.3, 98.5], "nice": false, "zero": false}}, "y": {"datum": 72.3, "type": "quantitative", "scale": {"domain": [1.3, 98.5], "nice": false, "zero": false}}}},
            {"data": {"values": [{}]},
             "mark": {"type": "text", "text": "-20%", "angle": -40, "fontStyle": "italic", "fontWeight": "bold", "fontSize": 12.5, "color": "#e0201b"},
             "encoding": {"x": {"datum": 77.7, "type": "quantitative", "scale": {"domain": [1.3, 98.5], "nice": false, "zero": false}}, "y": {"datum": 58, "type": "quantitative", "scale": {"domain": [1.3, 98.5], "nice": false, "zero": false}}}},
            {"data": {"values": [{}]},
             "mark": {"type": "rect", "fill": "white", "fillOpacity": 0.85, "stroke": "#8c8c8c", "strokeWidth": 1, "cornerRadius": 4},
             "encoding": {"x": {"datum": 3.65, "type": "quantitative", "scale": {"domain": [1.3, 98.5], "nice": false, "zero": false}}, "x2": {"datum": 30.4}, "y": {"datum": 96, "type": "quantitative", "scale": {"domain": [1.3, 98.5], "nice": false, "zero": false}}, "y2": {"datum": 64.9}}},
            {"data": {"values": [{}]},
             "mark": {"type": "text", "align": "left", "baseline": "middle", "fontSize": 11, "lineHeight": 11.7, "color": "#000", "text": ["Test Metrics:", "R²: 0.986", "RMSE: 3.44", "MAE: 2.68", "MAPE: 0.122", "MedAE: 1.86"]},
             "encoding": {"x": {"datum": 5.0, "type": "quantitative", "scale": {"domain": [1.3, 98.5], "nice": false, "zero": false}}, "y": {"datum": 92.6, "type": "quantitative", "scale": {"domain": [1.3, 98.5], "nice": false, "zero": false}}}}
          ]
        },
        {
          "width": 57, "height": 242,
          "data": {"name": "yh"},
          "transform": [{"filter": "datum.k == 'a'"}],
          "encoding": {
            "y": {"field": "lo", "type": "quantitative", "scale": {"domain": [1.3, 98.5], "nice": false, "zero": false}, "axis": {"title": null, "labels": false, "values": [20, 40, 60, 80]}},
            "y2": {"field": "hi"},
            "x2": {"datum": 0}
          },
          "layer": [
            {"mark": {"type": "rect", "fill": "#7b74a1", "stroke": "#1f1f1f", "strokeWidth": 1},
             "encoding": {"x": {"field": "n", "type": "quantitative", "scale": {"domain": [0, 17.85], "nice": false}, "axis": {"orient": "top", "title": "Count", "values": [0, 10], "grid": false, "labelFontSize": 9, "titleFontSize": 10.5, "titlePadding": 3, "labelPadding": 7}}}},
            {"transform": [{"filter": "datum.t > 0"}],
             "mark": {"type": "rect", "fill": "#d5ede8", "stroke": "#1f1f1f", "strokeWidth": 1},
             "encoding": {"x": {"field": "t", "type": "quantitative", "scale": {"domain": [0, 17.85], "nice": false}, "axis": {"orient": "top", "title": "Count", "values": [0, 10], "grid": false, "labelFontSize": 9, "titleFontSize": 10.5, "titlePadding": 3, "labelPadding": 7}}}}
          ]
        }
      ]
    },
    {
      "columns": 4, "align": "each", "bounds": "flush",
      "spacing": {"row": 21, "column": 15},
      "resolve": {"scale": {"fill": "independent"}, "legend": {"fill": "independent"}},
      "concat": [
        {
          "width": 77, "height": 43,
          "data": {"name": "rh"},
          "transform": [{"filter": "datum.k == 'b'"}],
          "encoding": {
            "x": {"field": "lo", "type": "quantitative", "scale": {"domain": [-7.5, 7.64], "nice": false, "zero": false}, "axis": {"title": null, "labels": false, "values": [-5, 0, 5]}},
            "x2": {"field": "hi"},
            "y2": {"datum": 0}
          },
          "layer": [
            {"mark": {"type": "rect", "fill": "#7b74a1", "stroke": "#1f1f1f", "strokeWidth": 1},
             "encoding": {"y": {"field": "n", "type": "quantitative", "scale": {"domain": [0, 38], "nice": false}, "axis": {"title": "Count", "values": [0, 20], "grid": false, "labelFontSize": 9, "titleFontSize": 10, "titlePadding": 4, "labelPadding": 7}}}},
            {"transform": [{"filter": "datum.t > 0"}],
             "mark": {"type": "rect", "fill": "#d5ede8", "stroke": "#1f1f1f", "strokeWidth": 1},
             "encoding": {"y": {"field": "t", "type": "quantitative", "scale": {"domain": [0, 38], "nice": false}, "axis": {"title": "Count", "values": [0, 20], "grid": false, "labelFontSize": 9, "titleFontSize": 10, "titlePadding": 4, "labelPadding": 7}}}}
          ]
        },
        {"width": 23, "height": 10, "data": {"values": []}, "mark": "point", "view": {"stroke": null}},
        {
          "width": 248, "height": 43,
          "data": {"name": "xh"},
          "encoding": {
            "x": {"field": "lo", "type": "quantitative", "scale": {"domain": [1.3, 98.5], "nice": false, "zero": false}, "axis": {"title": null, "labels": false, "values": [20, 40, 60, 80]}},
            "x2": {"field": "hi"},
            "y2": {"datum": 0}
          },
          "layer": [
            {"mark": {"type": "rect", "fill": "#7b74a1", "stroke": "#1f1f1f", "strokeWidth": 1},
             "encoding": {"y": {"field": "n", "type": "quantitative", "scale": {"domain": [0, 17.85], "nice": false}, "axis": {"title": "Count", "values": [0, 10], "grid": false, "labelFontSize": 9, "titleFontSize": 10, "titlePadding": 10, "labelPadding": 7}}}},
            {"transform": [{"filter": "datum.t > 0"}],
             "mark": {"type": "rect", "fill": "#d5ede8", "stroke": "#1f1f1f", "strokeWidth": 1},
             "encoding": {"y": {"field": "t", "type": "quantitative", "scale": {"domain": [0, 17.85], "nice": false}, "axis": {"title": "Count", "values": [0, 10], "grid": false, "labelFontSize": 9, "titleFontSize": 10, "titlePadding": 10, "labelPadding": 7}}}}
          ]
        },
        {"width": 57, "height": 43, "data": {"values": []}, "mark": "point", "view": {"stroke": null}},
        {
          "width": 77, "height": 242,
          "layer": [
            {"data": {"values": [{}]}, "mark": {"type": "rect", "fill": "#b5b5b5", "opacity": 0.6},
             "encoding": {"x": {"datum": -1.45, "type": "quantitative", "scale": {"domain": [-7.5, 7.64], "nice": false, "zero": false}}, "x2": {"datum": 1.45}}},
            {"data": {"values": [{}]}, "mark": {"type": "rule", "color": "#222", "strokeWidth": 1.2},
             "encoding": {"x": {"datum": 0, "type": "quantitative", "scale": {"domain": [-7.5, 7.64], "nice": false, "zero": false}}}},
            {"data": {"name": "pts"},
             "mark": {"type": "point", "filled": true, "stroke": "#111", "strokeWidth": 0.9, "size": 45, "opacity": 1},
             "encoding": {
               "x": {"field": "rb", "type": "quantitative", "scale": {"domain": [-7.5, 7.64], "nice": false, "zero": false}, "axis": {"title": "Residuals [mm]", "values": [-5, 0, 5], "labelFontSize": 9, "titleFontSize": 13, "titlePadding": 4, "labelPadding": 6}},
               "y": {"field": "pb", "type": "quantitative", "scale": {"domain": [1.3, 98.5], "nice": false, "zero": false}, "axis": {"title": null, "values": [20, 40, 60, 80], "labelFontSize": 9, "labelPadding": 7}},
               "fill": {"field": "s", "type": "nominal", "scale": {"domain": ["Train set", "Test set"], "range": ["#7b74a1", "#d5ede8"]}, "legend": null},
               "order": {"field": "s", "sort": "descending"}
             }}
          ]
        },
        {"width": 23, "height": 10, "data": {"values": []}, "mark": "point", "view": {"stroke": null}},
        {
          "width": 248, "height": 242,
          "title": {"text": "(b) AdaBoost", "orient": "bottom", "frame": "group", "offset": 17, "anchor": "middle"},
          "layer": [
            {"data": {"values": [{"x": 0, "lo": 0, "hi": 0}, {"x": 100, "lo": 80, "hi": 120}]},
             "mark": {"type": "area", "fill": "#bdbdbd", "opacity": 0.55, "clip": true},
             "encoding": {"x": {"field": "x", "type": "quantitative", "scale": {"domain": [1.3, 98.5], "nice": false, "zero": false}}, "y": {"field": "lo", "type": "quantitative", "scale": {"domain": [1.3, 98.5], "nice": false, "zero": false}}, "y2": {"field": "hi"}}},
            {"data": {"values": [{"x": 0, "y": 0}, {"x": 100, "y": 100}]},
             "mark": {"type": "line", "color": "#000", "strokeWidth": 1, "clip": true},
             "encoding": {"x": {"field": "x", "type": "quantitative", "scale": {"domain": [1.3, 98.5], "nice": false, "zero": false}}, "y": {"field": "y", "type": "quantitative", "scale": {"domain": [1.3, 98.5], "nice": false, "zero": false}}}},
            {"data": {"name": "pts"},
             "mark": {"type": "point", "filled": true, "stroke": "#111", "strokeWidth": 0.9, "size": 55, "opacity": 1},
             "encoding": {
               "x": {"field": "m", "type": "quantitative", "scale": {"domain": [1.3, 98.5], "nice": false, "zero": false}, "axis": {"title": "Measures, d [mm]", "values": [20, 40, 60, 80], "labelFontSize": 11.5, "titleFontSize": 15, "titlePadding": 4, "labelPadding": 7}},
               "y": {"field": "pb", "type": "quantitative", "scale": {"domain": [1.3, 98.5], "nice": false, "zero": false}, "axis": {"title": "Predicted, d [mm]", "values": [20, 40, 60, 80], "labelFontSize": 11.5, "titleFontSize": 15, "titlePadding": 8, "labelPadding": 7}},
               "fill": {"field": "s", "type": "nominal", "scale": {"domain": ["Train set", "Test set"], "range": ["#7b74a1", "#d5ede8"]},
                        "legend": {"title": null, "orient": "bottom-right", "offset": 5, "padding": 6, "cornerRadius": 3, "fillColor": "white", "strokeColor": "#222", "symbolType": "circle", "symbolSize": 70, "symbolStrokeColor": "#111", "symbolStrokeWidth": 1, "symbolOffset": 5, "labelOffset": 16, "labelFontSize": 11, "rowPadding": 5}},
               "order": {"field": "s", "sort": "descending"}
             }},
            {"data": {"values": [{}]},
             "mark": {"type": "text", "text": "+20%", "angle": -40, "fontStyle": "italic", "fontWeight": "bold", "fontSize": 12.5, "color": "#e0201b"},
             "encoding": {"x": {"datum": 60.4, "type": "quantitative", "scale": {"domain": [1.3, 98.5], "nice": false, "zero": false}}, "y": {"datum": 72.5, "type": "quantitative", "scale": {"domain": [1.3, 98.5], "nice": false, "zero": false}}}},
            {"data": {"values": [{}]},
             "mark": {"type": "text", "text": "-20%", "angle": -40, "fontStyle": "italic", "fontWeight": "bold", "fontSize": 12.5, "color": "#e0201b"},
             "encoding": {"x": {"datum": 77.8, "type": "quantitative", "scale": {"domain": [1.3, 98.5], "nice": false, "zero": false}}, "y": {"datum": 58, "type": "quantitative", "scale": {"domain": [1.3, 98.5], "nice": false, "zero": false}}}},
            {"data": {"values": [{}]},
             "mark": {"type": "rect", "fill": "white", "fillOpacity": 0.85, "stroke": "#8c8c8c", "strokeWidth": 1, "cornerRadius": 4},
             "encoding": {"x": {"datum": 3.65, "type": "quantitative", "scale": {"domain": [1.3, 98.5], "nice": false, "zero": false}}, "x2": {"datum": 30.4}, "y": {"datum": 96, "type": "quantitative", "scale": {"domain": [1.3, 98.5], "nice": false, "zero": false}}, "y2": {"datum": 64.9}}},
            {"data": {"values": [{}]},
             "mark": {"type": "text", "align": "left", "baseline": "middle", "fontSize": 11, "lineHeight": 11.7, "color": "#000", "text": ["Test Metrics:", "R²: 0.986", "RMSE: 3.37", "MAE: 2.69", "MAPE: 0.130", "MedAE: 2.95"]},
             "encoding": {"x": {"datum": 5.0, "type": "quantitative", "scale": {"domain": [1.3, 98.5], "nice": false, "zero": false}}, "y": {"datum": 92.6, "type": "quantitative", "scale": {"domain": [1.3, 98.5], "nice": false, "zero": false}}}}
          ]
        },
        {
          "width": 57, "height": 242,
          "data": {"name": "yh"},
          "transform": [{"filter": "datum.k == 'b'"}],
          "encoding": {
            "y": {"field": "lo", "type": "quantitative", "scale": {"domain": [1.3, 98.5], "nice": false, "zero": false}, "axis": {"title": null, "labels": false, "values": [20, 40, 60, 80]}},
            "y2": {"field": "hi"},
            "x2": {"datum": 0}
          },
          "layer": [
            {"mark": {"type": "rect", "fill": "#7b74a1", "stroke": "#1f1f1f", "strokeWidth": 1},
             "encoding": {"x": {"field": "n", "type": "quantitative", "scale": {"domain": [0, 21], "nice": false}, "axis": {"orient": "top", "title": "Count", "values": [0, 20], "grid": false, "labelFontSize": 9, "titleFontSize": 10.5, "titlePadding": 3, "labelPadding": 7}}}},
            {"transform": [{"filter": "datum.t > 0"}],
             "mark": {"type": "rect", "fill": "#d5ede8", "stroke": "#1f1f1f", "strokeWidth": 1},
             "encoding": {"x": {"field": "t", "type": "quantitative", "scale": {"domain": [0, 21], "nice": false}, "axis": {"orient": "top", "title": "Count", "values": [0, 20], "grid": false, "labelFontSize": 9, "titleFontSize": 10.5, "titlePadding": 3, "labelPadding": 7}}}}
          ]
        }
      ]
    },
    {
      "columns": 4, "align": "each", "bounds": "flush",
      "spacing": {"row": 21, "column": 15},
      "resolve": {"scale": {"fill": "independent"}, "legend": {"fill": "independent"}},
      "concat": [
        {
          "width": 77, "height": 43,
          "data": {"name": "rh"},
          "transform": [{"filter": "datum.k == 'c'"}],
          "encoding": {
            "x": {"field": "lo", "type": "quantitative", "scale": {"domain": [-7.5, 7.58], "nice": false, "zero": false}, "axis": {"title": null, "labels": false, "values": [-5, 0, 5]}},
            "x2": {"field": "hi"},
            "y2": {"datum": 0}
          },
          "layer": [
            {"mark": {"type": "rect", "fill": "#7b74a1", "stroke": "#1f1f1f", "strokeWidth": 1},
             "encoding": {"y": {"field": "n", "type": "quantitative", "scale": {"domain": [0, 64], "nice": false}, "axis": {"title": "Count", "values": [0, 50], "grid": false, "labelFontSize": 9, "titleFontSize": 10, "titlePadding": 4, "labelPadding": 7}}}},
            {"transform": [{"filter": "datum.t > 0"}],
             "mark": {"type": "rect", "fill": "#d5ede8", "stroke": "#1f1f1f", "strokeWidth": 1},
             "encoding": {"y": {"field": "t", "type": "quantitative", "scale": {"domain": [0, 64], "nice": false}, "axis": {"title": "Count", "values": [0, 50], "grid": false, "labelFontSize": 9, "titleFontSize": 10, "titlePadding": 4, "labelPadding": 7}}}}
          ]
        },
        {"width": 23, "height": 10, "data": {"values": []}, "mark": "point", "view": {"stroke": null}},
        {
          "width": 248, "height": 43,
          "data": {"name": "xh"},
          "encoding": {
            "x": {"field": "lo", "type": "quantitative", "scale": {"domain": [1.3, 98.5], "nice": false, "zero": false}, "axis": {"title": null, "labels": false, "values": [20, 40, 60, 80]}},
            "x2": {"field": "hi"},
            "y2": {"datum": 0}
          },
          "layer": [
            {"mark": {"type": "rect", "fill": "#7b74a1", "stroke": "#1f1f1f", "strokeWidth": 1},
             "encoding": {"y": {"field": "n", "type": "quantitative", "scale": {"domain": [0, 17.85], "nice": false}, "axis": {"title": "Count", "values": [0, 10], "grid": false, "labelFontSize": 9, "titleFontSize": 10, "titlePadding": 10, "labelPadding": 7}}}},
            {"transform": [{"filter": "datum.t > 0"}],
             "mark": {"type": "rect", "fill": "#d5ede8", "stroke": "#1f1f1f", "strokeWidth": 1},
             "encoding": {"y": {"field": "t", "type": "quantitative", "scale": {"domain": [0, 17.85], "nice": false}, "axis": {"title": "Count", "values": [0, 10], "grid": false, "labelFontSize": 9, "titleFontSize": 10, "titlePadding": 10, "labelPadding": 7}}}}
          ]
        },
        {"width": 57, "height": 43, "data": {"values": []}, "mark": "point", "view": {"stroke": null}},
        {
          "width": 77, "height": 242,
          "layer": [
            {"data": {"values": [{}]}, "mark": {"type": "rect", "fill": "#b5b5b5", "opacity": 0.6},
             "encoding": {"x": {"datum": -1.4, "type": "quantitative", "scale": {"domain": [-7.5, 7.58], "nice": false, "zero": false}}, "x2": {"datum": 1.4}}},
            {"data": {"values": [{}]}, "mark": {"type": "rule", "color": "#333", "strokeWidth": 1.5},
             "encoding": {"x": {"datum": 0, "type": "quantitative", "scale": {"domain": [-7.5, 7.58], "nice": false, "zero": false}}}},
            {"data": {"name": "pts"},
             "mark": {"type": "point", "filled": true, "stroke": "#111", "strokeWidth": 0.9, "size": 45, "opacity": 1},
             "encoding": {
               "x": {"field": "rc", "type": "quantitative", "scale": {"domain": [-7.5, 7.58], "nice": false, "zero": false}, "axis": {"title": "Residuals [mm]", "values": [-5, 0, 5], "labelFontSize": 9, "titleFontSize": 13, "titlePadding": 4, "labelPadding": 6}},
               "y": {"field": "pc", "type": "quantitative", "scale": {"domain": [1.3, 98.5], "nice": false, "zero": false}, "axis": {"title": null, "values": [20, 40, 60, 80], "labelFontSize": 9, "labelPadding": 7}},
               "fill": {"field": "s", "type": "nominal", "scale": {"domain": ["Train set", "Test set"], "range": ["#7b74a1", "#d5ede8"]}, "legend": null},
               "order": {"field": "s", "sort": "descending"}
             }}
          ]
        },
        {"width": 23, "height": 10, "data": {"values": []}, "mark": "point", "view": {"stroke": null}},
        {
          "width": 248, "height": 242,
          "title": {"text": "(c) GBRT", "orient": "bottom", "frame": "group", "offset": 17, "anchor": "middle"},
          "layer": [
            {"data": {"values": [{"x": 0, "lo": 0, "hi": 0}, {"x": 100, "lo": 80, "hi": 120}]},
             "mark": {"type": "area", "fill": "#bdbdbd", "opacity": 0.55, "clip": true},
             "encoding": {"x": {"field": "x", "type": "quantitative", "scale": {"domain": [1.3, 98.5], "nice": false, "zero": false}}, "y": {"field": "lo", "type": "quantitative", "scale": {"domain": [1.3, 98.5], "nice": false, "zero": false}}, "y2": {"field": "hi"}}},
            {"data": {"values": [{"x": 0, "y": 0}, {"x": 100, "y": 100}]},
             "mark": {"type": "line", "color": "#000", "strokeWidth": 1, "clip": true},
             "encoding": {"x": {"field": "x", "type": "quantitative", "scale": {"domain": [1.3, 98.5], "nice": false, "zero": false}}, "y": {"field": "y", "type": "quantitative", "scale": {"domain": [1.3, 98.5], "nice": false, "zero": false}}}},
            {"data": {"name": "pts"},
             "mark": {"type": "point", "filled": true, "stroke": "#111", "strokeWidth": 0.9, "size": 55, "opacity": 1},
             "encoding": {
               "x": {"field": "m", "type": "quantitative", "scale": {"domain": [1.3, 98.5], "nice": false, "zero": false}, "axis": {"title": "Measures, d [mm]", "values": [20, 40, 60, 80], "labelFontSize": 11.5, "titleFontSize": 15, "titlePadding": 4, "labelPadding": 7}},
               "y": {"field": "pc", "type": "quantitative", "scale": {"domain": [1.3, 98.5], "nice": false, "zero": false}, "axis": {"title": "Predicted, d [mm]", "values": [20, 40, 60, 80], "labelFontSize": 11.5, "titleFontSize": 15, "titlePadding": 8, "labelPadding": 7}},
               "fill": {"field": "s", "type": "nominal", "scale": {"domain": ["Train set", "Test set"], "range": ["#7b74a1", "#d5ede8"]},
                        "legend": {"title": null, "orient": "bottom-right", "offset": 5, "padding": 6, "cornerRadius": 3, "fillColor": "white", "strokeColor": "#222", "symbolType": "circle", "symbolSize": 70, "symbolStrokeColor": "#111", "symbolStrokeWidth": 1, "symbolOffset": 5, "labelOffset": 16, "labelFontSize": 11, "rowPadding": 5}},
               "order": {"field": "s", "sort": "descending"}
             }},
            {"data": {"values": [{}]},
             "mark": {"type": "text", "text": "+20%", "angle": -40, "fontStyle": "italic", "fontWeight": "bold", "fontSize": 12.5, "color": "#e0201b"},
             "encoding": {"x": {"datum": 60.8, "type": "quantitative", "scale": {"domain": [1.3, 98.5], "nice": false, "zero": false}}, "y": {"datum": 72.3, "type": "quantitative", "scale": {"domain": [1.3, 98.5], "nice": false, "zero": false}}}},
            {"data": {"values": [{}]},
             "mark": {"type": "text", "text": "-20%", "angle": -40, "fontStyle": "italic", "fontWeight": "bold", "fontSize": 12.5, "color": "#e0201b"},
             "encoding": {"x": {"datum": 77.7, "type": "quantitative", "scale": {"domain": [1.3, 98.5], "nice": false, "zero": false}}, "y": {"datum": 58, "type": "quantitative", "scale": {"domain": [1.3, 98.5], "nice": false, "zero": false}}}},
            {"data": {"values": [{}]},
             "mark": {"type": "rect", "fill": "white", "fillOpacity": 0.85, "stroke": "#8c8c8c", "strokeWidth": 1, "cornerRadius": 4},
             "encoding": {"x": {"datum": 3.65, "type": "quantitative", "scale": {"domain": [1.3, 98.5], "nice": false, "zero": false}}, "x2": {"datum": 30.4}, "y": {"datum": 96, "type": "quantitative", "scale": {"domain": [1.3, 98.5], "nice": false, "zero": false}}, "y2": {"datum": 64.9}}},
            {"data": {"values": [{}]},
             "mark": {"type": "text", "align": "left", "baseline": "middle", "fontSize": 11, "lineHeight": 11.7, "color": "#000", "text": ["Test Metrics:", "R²: 0.987", "RMSE: 3.23", "MAE: 2.68", "MAPE: 0.122", "MedAE: 2.37"]},
             "encoding": {"x": {"datum": 5.0, "type": "quantitative", "scale": {"domain": [1.3, 98.5], "nice": false, "zero": false}}, "y": {"datum": 92.6, "type": "quantitative", "scale": {"domain": [1.3, 98.5], "nice": false, "zero": false}}}}
          ]
        },
        {
          "width": 57, "height": 242,
          "data": {"name": "yh"},
          "transform": [{"filter": "datum.k == 'c'"}],
          "encoding": {
            "y": {"field": "lo", "type": "quantitative", "scale": {"domain": [1.3, 98.5], "nice": false, "zero": false}, "axis": {"title": null, "labels": false, "values": [20, 40, 60, 80]}},
            "y2": {"field": "hi"},
            "x2": {"datum": 0}
          },
          "layer": [
            {"mark": {"type": "rect", "fill": "#7b74a1", "stroke": "#1f1f1f", "strokeWidth": 1},
             "encoding": {"x": {"field": "n", "type": "quantitative", "scale": {"domain": [0, 18.9], "nice": false}, "axis": {"orient": "top", "title": "Count", "values": [0, 10], "grid": false, "labelFontSize": 9, "titleFontSize": 10.5, "titlePadding": 3, "labelPadding": 7}}}},
            {"transform": [{"filter": "datum.t > 0"}],
             "mark": {"type": "rect", "fill": "#d5ede8", "stroke": "#1f1f1f", "strokeWidth": 1},
             "encoding": {"x": {"field": "t", "type": "quantitative", "scale": {"domain": [0, 18.9], "nice": false}, "axis": {"orient": "top", "title": "Count", "values": [0, 10], "grid": false, "labelFontSize": 9, "titleFontSize": 10.5, "titlePadding": 3, "labelPadding": 7}}}}
          ]
        }
      ]
    },
    {
      "columns": 4, "align": "each", "bounds": "flush",
      "spacing": {"row": 21, "column": 15},
      "resolve": {"scale": {"fill": "independent"}, "legend": {"fill": "independent"}},
      "concat": [
        {
          "width": 77, "height": 43,
          "data": {"name": "rh"},
          "transform": [{"filter": "datum.k == 'd'"}],
          "encoding": {
            "x": {"field": "lo", "type": "quantitative", "scale": {"domain": [-7.84, 7.98], "nice": false, "zero": false}, "axis": {"title": null, "labels": false, "values": [-5, 0, 5]}},
            "x2": {"field": "hi"},
            "y2": {"datum": 0}
          },
          "layer": [
            {"mark": {"type": "rect", "fill": "#7b74a1", "stroke": "#1f1f1f", "strokeWidth": 1},
             "encoding": {"y": {"field": "n", "type": "quantitative", "scale": {"domain": [0, 101.6], "nice": false}, "axis": {"title": "Count", "values": [0, 100], "grid": false, "labelFontSize": 9, "titleFontSize": 10, "titlePadding": 4, "labelPadding": 7}}}},
            {"transform": [{"filter": "datum.t > 0"}],
             "mark": {"type": "rect", "fill": "#d5ede8", "stroke": "#1f1f1f", "strokeWidth": 1},
             "encoding": {"y": {"field": "t", "type": "quantitative", "scale": {"domain": [0, 101.6], "nice": false}, "axis": {"title": "Count", "values": [0, 100], "grid": false, "labelFontSize": 9, "titleFontSize": 10, "titlePadding": 4, "labelPadding": 7}}}}
          ]
        },
        {"width": 23, "height": 10, "data": {"values": []}, "mark": "point", "view": {"stroke": null}},
        {
          "width": 248, "height": 43,
          "data": {"name": "xh"},
          "encoding": {
            "x": {"field": "lo", "type": "quantitative", "scale": {"domain": [1.3, 98.5], "nice": false, "zero": false}, "axis": {"title": null, "labels": false, "values": [20, 40, 60, 80]}},
            "x2": {"field": "hi"},
            "y2": {"datum": 0}
          },
          "layer": [
            {"mark": {"type": "rect", "fill": "#7b74a1", "stroke": "#1f1f1f", "strokeWidth": 1},
             "encoding": {"y": {"field": "n", "type": "quantitative", "scale": {"domain": [0, 17.85], "nice": false}, "axis": {"title": "Count", "values": [0, 10], "grid": false, "labelFontSize": 9, "titleFontSize": 10, "titlePadding": 10, "labelPadding": 7}}}},
            {"transform": [{"filter": "datum.t > 0"}],
             "mark": {"type": "rect", "fill": "#d5ede8", "stroke": "#1f1f1f", "strokeWidth": 1},
             "encoding": {"y": {"field": "t", "type": "quantitative", "scale": {"domain": [0, 17.85], "nice": false}, "axis": {"title": "Count", "values": [0, 10], "grid": false, "labelFontSize": 9, "titleFontSize": 10, "titlePadding": 10, "labelPadding": 7}}}}
          ]
        },
        {"width": 57, "height": 43, "data": {"values": []}, "mark": "point", "view": {"stroke": null}},
        {
          "width": 77, "height": 242,
          "layer": [
            {"data": {"values": [{}]}, "mark": {"type": "rect", "fill": "#b5b5b5", "opacity": 0.6},
             "encoding": {"x": {"datum": -1.5, "type": "quantitative", "scale": {"domain": [-7.84, 7.98], "nice": false, "zero": false}}, "x2": {"datum": 1.5}}},
            {"data": {"values": [{}]}, "mark": {"type": "rule", "color": "#222", "strokeWidth": 1.2},
             "encoding": {"x": {"datum": 0, "type": "quantitative", "scale": {"domain": [-7.84, 7.98], "nice": false, "zero": false}}}},
            {"data": {"name": "pts"},
             "mark": {"type": "point", "filled": true, "stroke": "#111", "strokeWidth": 0.9, "size": 45, "opacity": 1},
             "encoding": {
               "x": {"field": "rd", "type": "quantitative", "scale": {"domain": [-7.84, 7.98], "nice": false, "zero": false}, "axis": {"title": "Residuals [mm]", "values": [-5, 0, 5], "labelFontSize": 9, "titleFontSize": 13, "titlePadding": 4, "labelPadding": 6}},
               "y": {"field": "pd", "type": "quantitative", "scale": {"domain": [1.3, 98.5], "nice": false, "zero": false}, "axis": {"title": null, "values": [20, 40, 60, 80], "labelFontSize": 9, "labelPadding": 7}},
               "fill": {"field": "s", "type": "nominal", "scale": {"domain": ["Train set", "Test set"], "range": ["#7b74a1", "#d5ede8"]}, "legend": null},
               "order": {"field": "s", "sort": "descending"}
             }},
            {"data": {"values": [{}]},
             "mark": {"type": "text", "text": "公众号 · python+遥感学习日志", "font": "Noto Sans CJK SC", "fontSize": 30, "color": "#a6a6a6", "opacity": 0.8, "align": "left", "baseline": "middle", "clip": false},
             "encoding": {"x": {"datum": -9.0, "type": "quantitative", "scale": {"domain": [-7.84, 7.98], "nice": false, "zero": false}}, "y": {"datum": -13.8, "type": "quantitative", "scale": {"domain": [1.3, 98.5], "nice": false, "zero": false}}}}
          ]
        },
        {"width": 23, "height": 10, "data": {"values": []}, "mark": "point", "view": {"stroke": null}},
        {
          "width": 248, "height": 242,
          "title": {"text": "(d) XGBoost", "orient": "bottom", "frame": "group", "offset": 17, "anchor": "middle"},
          "layer": [
            {"data": {"values": [{"x": 0, "lo": 0, "hi": 0}, {"x": 100, "lo": 80, "hi": 120}]},
             "mark": {"type": "area", "fill": "#bdbdbd", "opacity": 0.55, "clip": true},
             "encoding": {"x": {"field": "x", "type": "quantitative", "scale": {"domain": [1.3, 98.5], "nice": false, "zero": false}}, "y": {"field": "lo", "type": "quantitative", "scale": {"domain": [1.3, 98.5], "nice": false, "zero": false}}, "y2": {"field": "hi"}}},
            {"data": {"values": [{"x": 0, "y": 0}, {"x": 100, "y": 100}]},
             "mark": {"type": "line", "color": "#000", "strokeWidth": 1, "clip": true},
             "encoding": {"x": {"field": "x", "type": "quantitative", "scale": {"domain": [1.3, 98.5], "nice": false, "zero": false}}, "y": {"field": "y", "type": "quantitative", "scale": {"domain": [1.3, 98.5], "nice": false, "zero": false}}}},
            {"data": {"name": "pts"},
             "mark": {"type": "point", "filled": true, "stroke": "#111", "strokeWidth": 0.9, "size": 55, "opacity": 1},
             "encoding": {
               "x": {"field": "m", "type": "quantitative", "scale": {"domain": [1.3, 98.5], "nice": false, "zero": false}, "axis": {"title": "Measures, d [mm]", "values": [20, 40, 60, 80], "labelFontSize": 11.5, "titleFontSize": 15, "titlePadding": 4, "labelPadding": 7}},
               "y": {"field": "pd", "type": "quantitative", "scale": {"domain": [1.3, 98.5], "nice": false, "zero": false}, "axis": {"title": "Predicted, d [mm]", "values": [20, 40, 60, 80], "labelFontSize": 11.5, "titleFontSize": 15, "titlePadding": 8, "labelPadding": 7}},
               "fill": {"field": "s", "type": "nominal", "scale": {"domain": ["Train set", "Test set"], "range": ["#7b74a1", "#d5ede8"]},
                        "legend": {"title": null, "orient": "bottom-right", "offset": 5, "padding": 6, "cornerRadius": 3, "fillColor": "white", "strokeColor": "#222", "symbolType": "circle", "symbolSize": 70, "symbolStrokeColor": "#111", "symbolStrokeWidth": 1, "symbolOffset": 5, "labelOffset": 16, "labelFontSize": 11, "rowPadding": 5}},
               "order": {"field": "s", "sort": "descending"}
             }},
            {"data": {"values": [{}]},
             "mark": {"type": "text", "text": "+20%", "angle": -40, "fontStyle": "italic", "fontWeight": "bold", "fontSize": 12.5, "color": "#e0201b"},
             "encoding": {"x": {"datum": 60.4, "type": "quantitative", "scale": {"domain": [1.3, 98.5], "nice": false, "zero": false}}, "y": {"datum": 72.5, "type": "quantitative", "scale": {"domain": [1.3, 98.5], "nice": false, "zero": false}}}},
            {"data": {"values": [{}]},
             "mark": {"type": "text", "text": "-20%", "angle": -40, "fontStyle": "italic", "fontWeight": "bold", "fontSize": 12.5, "color": "#e0201b"},
             "encoding": {"x": {"datum": 77.8, "type": "quantitative", "scale": {"domain": [1.3, 98.5], "nice": false, "zero": false}}, "y": {"datum": 58, "type": "quantitative", "scale": {"domain": [1.3, 98.5], "nice": false, "zero": false}}}},
            {"data": {"values": [{}]},
             "mark": {"type": "rect", "fill": "white", "fillOpacity": 0.85, "stroke": "#8c8c8c", "strokeWidth": 1, "cornerRadius": 4},
             "encoding": {"x": {"datum": 3.65, "type": "quantitative", "scale": {"domain": [1.3, 98.5], "nice": false, "zero": false}}, "x2": {"datum": 30.4}, "y": {"datum": 96, "type": "quantitative", "scale": {"domain": [1.3, 98.5], "nice": false, "zero": false}}, "y2": {"datum": 64.9}}},
            {"data": {"values": [{}]},
             "mark": {"type": "text", "align": "left", "baseline": "middle", "fontSize": 11, "lineHeight": 11.7, "color": "#000", "text": ["Test Metrics:", "R²: 0.987", "RMSE: 3.29", "MAE: 2.73", "MAPE: 0.111", "MedAE: 2.39"]},
             "encoding": {"x": {"datum": 5.0, "type": "quantitative", "scale": {"domain": [1.3, 98.5], "nice": false, "zero": false}}, "y": {"datum": 92.6, "type": "quantitative", "scale": {"domain": [1.3, 98.5], "nice": false, "zero": false}}}}
          ]
        },
        {
          "width": 57, "height": 242,
          "data": {"name": "yh"},
          "transform": [{"filter": "datum.k == 'd'"}],
          "encoding": {
            "y": {"field": "lo", "type": "quantitative", "scale": {"domain": [1.3, 98.5], "nice": false, "zero": false}, "axis": {"title": null, "labels": false, "values": [20, 40, 60, 80]}},
            "y2": {"field": "hi"},
            "x2": {"datum": 0}
          },
          "layer": [
            {"mark": {"type": "rect", "fill": "#7b74a1", "stroke": "#1f1f1f", "strokeWidth": 1},
             "encoding": {"x": {"field": "n", "type": "quantitative", "scale": {"domain": [0, 19.95], "nice": false}, "axis": {"orient": "top", "title": "Count", "values": [0, 10], "grid": false, "labelFontSize": 9, "titleFontSize": 10.5, "titlePadding": 3, "labelPadding": 7}}}},
            {"transform": [{"filter": "datum.t > 0"}],
             "mark": {"type": "rect", "fill": "#d5ede8", "stroke": "#1f1f1f", "strokeWidth": 1},
             "encoding": {"x": {"field": "t", "type": "quantitative", "scale": {"domain": [0, 19.95], "nice": false}, "axis": {"orient": "top", "title": "Count", "values": [0, 10], "grid": false, "labelFontSize": 9, "titleFontSize": 10.5, "titlePadding": 3, "labelPadding": 7}}}}
          ]
        }
      ]
    }
  ]
}
